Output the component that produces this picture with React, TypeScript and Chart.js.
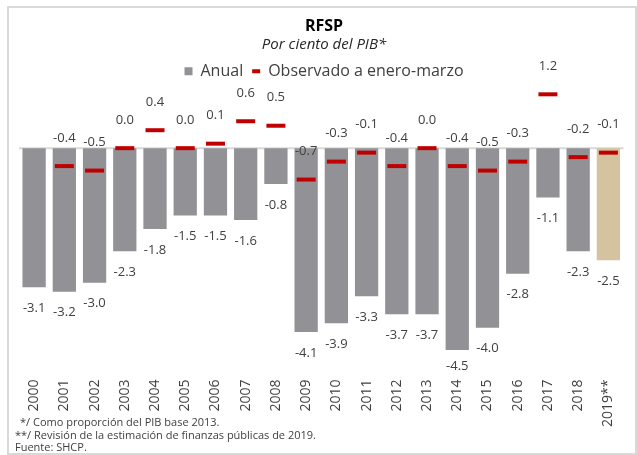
import React, { useEffect, useRef } from "react";
import { Chart, registerables } from "chart.js";

Chart.register(...registerables);

const categories = ["2000", "2001", "2002", "2003", "2004", "2005", "2006", "2007", "2008", "2009", "2010", "2011", "2012", "2013", "2014", "2015", "2016", "2017", "2018", "2019**"];
const anual = [-3.1, -3.2, -3.0, -2.3, -1.8, -1.5, -1.5, -1.6, -0.8, -4.1, -3.9, -3.3, -3.7, -3.7, -4.5, -4.0, -2.8, -1.1, -2.3, -2.5];
const observado = [null, -0.4, -0.5, 0.0, 0.4, 0.0, 0.1, 0.6, 0.5, -0.7, -0.3, -0.1, -0.4, 0.0, -0.4, -0.5, -0.3, 1.2, -0.2, -0.1];
const footnotes = [
  "*/ Como proporción del PIB base 2013.",
  "**/ Revisión de la estimación de finanzas públicas de 2019.",
  "Fuente: SHCP.",
];

const FONT = "'Open Sans', sans-serif";
const GRAY = "#929196";
const TAN = "#d5c29e";
const RED = "#c00000";
const TEXT = "#404040";

const barColors = categories.map((c) => (c.endsWith("**") ? TAN : GRAY));

const extrasPlugin = {
  id: "extras",
  beforeDatasetsDraw(chart: any) {
    const { ctx, chartArea } = chart;
    const y0 = chart.scales.y.getPixelForValue(0);
    ctx.save();
    ctx.strokeStyle = "#d9d9d9";
    ctx.lineWidth = 2;
    ctx.beginPath();
    ctx.moveTo(chartArea.left, y0);
    ctx.lineTo(chartArea.right, y0);
    ctx.stroke();
    ctx.restore();
  },
  afterDatasetsDraw(chart: any) {
    const { ctx, chartArea } = chart;
    ctx.save();
    ctx.font = `13px ${FONT}`;
    ctx.fillStyle = TEXT;
    ctx.textAlign = "center";
    ctx.textBaseline = "middle";
    const barMeta = chart.getDatasetMeta(0);
    barMeta.data.forEach((el: any, i: number) => {
      const v = anual[i];
      const y = Math.min(el.y + 21, chartArea.bottom - 6);
      ctx.fillText(v.toFixed(1), el.x, y);
    });
    const obsMeta = chart.getDatasetMeta(1);
    obsMeta.data.forEach((el: any, i: number) => {
      const v = observado[i];
      if (v === null || v === undefined) return;
      ctx.fillText(v.toFixed(1), el.x, el.y - 28);
    });
    ctx.restore();
  },
  afterDraw(chart: any) {
    const { ctx } = chart;
    ctx.save();
    ctx.font = `11px ${FONT}`;
    ctx.fillStyle = TEXT;
    ctx.textAlign = "left";
    ctx.textBaseline = "middle";
    ctx.fillText(footnotes[0], 20, 423);
    ctx.fillText(footnotes[1], 15, 436);
    ctx.fillText(footnotes[2], 15, 448);
    ctx.restore();
  },
};

export default function App() {
  const ref = useRef<HTMLCanvasElement>(null);

  useEffect(() => {
    if (!ref.current) return;
    const chart = new Chart(ref.current, {
      type: "bar",
      data: {
        labels: categories,
        datasets: [
          {
            type: "bar",
            label: "Anual",
            data: anual,
            backgroundColor: barColors,
            borderWidth: 0,
            categoryPercentage: 1,
            barPercentage: 0.77,
            pointStyle: "rect",
            order: 1,
          } as any,
          {
            type: "line",
            label: "Observado a enero-marzo",
            data: observado,
            showLine: false,
            pointStyle: "line",
            pointRadius: 9.5,
            pointHoverRadius: 9.5,
            pointBorderWidth: 4,
            pointBorderColor: RED,
            pointBackgroundColor: RED,
            borderColor: RED,
            backgroundColor: RED,
            clip: false,
            order: 0,
          } as any,
        ],
      },
      options: {
        responsive: false,
        animation: false,
        devicePixelRatio: 1,
        layout: { padding: { top: 0, left: 19, right: 8, bottom: 0 } },
        plugins: {
          title: {
            display: true,
            text: "RFSP",
            color: "#000",
            font: { family: FONT, size: 16, weight: "bold" },
            padding: { top: 17, bottom: 0 },
          },
          subtitle: {
            display: true,
            text: "Por ciento del PIB*",
            color: "#262626",
            font: { family: FONT, size: 15, style: "italic" },
            padding: { top: 0, bottom: 0 },
          },
          legend: {
            display: true,
            position: "top",
            labels: {
              usePointStyle: true,
              boxWidth: 8,
              boxHeight: 8,
              pointStyleWidth: 8,
              padding: 9,
              color: TEXT,
              font: { family: FONT, size: 16 },
              sort: (a: any, b: any) => a.datasetIndex - b.datasetIndex,
            },
          },
          tooltip: { enabled: false },
        },
        scales: {
          x: {
            grid: { display: false, drawTicks: false },
            border: { display: false },
            ticks: {
              minRotation: 90,
              maxRotation: 90,
              padding: 7,
              color: TEXT,
              font: { family: FONT, size: 14 },
            },
            afterFit: (axis: any) => {
              axis.height = 82.5;
            },
          },
          y: {
            display: false,
            min: -5,
            max: 1.314,
          },
        },
      },
      plugins: [extrasPlugin],
    });
    return () => chart.destroy();
  }, []);

  return (
    <div style={{ position: "absolute", left: 0, top: 0, width: 637, height: 455, background: "#fff" }}>
      <div
        style={{
          position: "absolute",
          left: 7,
          top: 6,
          width: 630,
          height: 449,
          border: "2px solid #d9d9d9",
          boxSizing: "border-box",
        }}
      />
      <canvas ref={ref} width={637} height={455} style={{ position: "absolute", left: 0, top: 0 }} />
    </div>
  );
}
